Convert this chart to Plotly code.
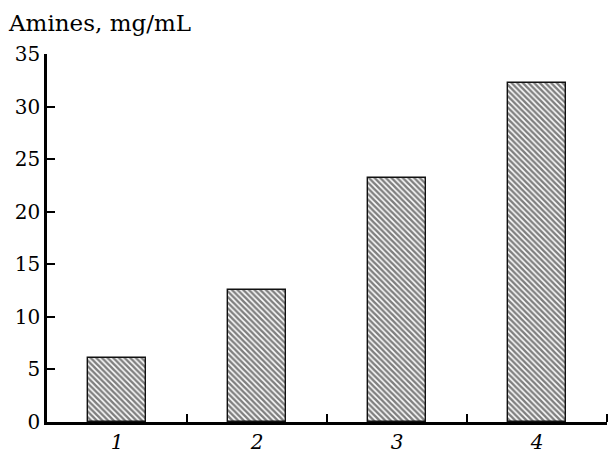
import plotly.graph_objects as go

categories = [1, 2, 3, 4]
tick_labels = ["1", "2", "3", "4"]
amines = [6.1, 12.6, 23.2, 32.2]
y_ticks = [0, 5, 10, 15, 20, 25, 30, 35]

fig = go.Figure()
fig.add_trace(go.Bar(
    x=categories, y=amines, width=0.42,
    marker=dict(color="white",
                line=dict(color="#111", width=1.4),
                pattern=dict(shape="\\", fgcolor="black", bgcolor="white",
                             size=4, solidity=0.62, fillmode="overlay")),
    showlegend=False,
))

font = "DejaVu Serif"
fig.update_layout(
    width=610, height=456,
    margin=dict(l=47, r=3, t=54, b=34, autoexpand=False),
    plot_bgcolor="white", paper_bgcolor="white",
    font=dict(family=font, size=20, color="black"),
    title=dict(text="Amines, mg/mL", x=9/610, xanchor="left", xref="container",
               y=1-23/456, yanchor="middle", yref="container",
               font=dict(family=font, size=23, color="black")),
    bargap=0,
)
fig.update_xaxes(
    range=[0.5, 4.5], tickvals=categories, automargin=False,
    ticktext=["<i>%s</i>" % t for t in tick_labels],
    ticks="", showline=True, linecolor="black", linewidth=2.5,
    showgrid=False, zeroline=False, fixedrange=True,
    tickfont=dict(family=font, size=20, color="black"),
    minor=dict(tickvals=[1.5, 2.5, 3.5, 4.5], ticks="inside", ticklen=8,
               tickwidth=2, tickcolor="black", showgrid=False),
)
fig.update_yaxes(
    range=[0, 35], tickvals=y_ticks, ticks="inside", ticklen=8, automargin=False,
    tickwidth=2, tickcolor="black", showline=True, linecolor="black",
    linewidth=2.5, showgrid=False, zeroline=False,
    tickfont=dict(family=font, size=20, color="black"),
)
fig.write_html("out.html")
